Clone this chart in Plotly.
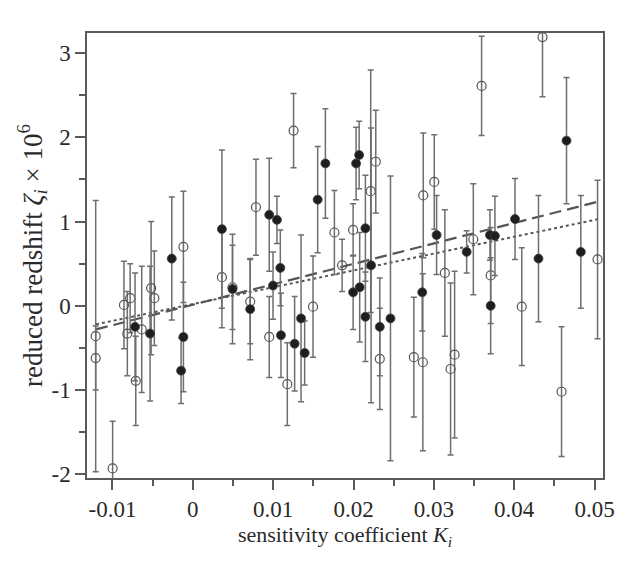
import plotly.graph_objects as go

# Open-circle measurements
open_x = [-0.01209, -0.01209, -0.00998, -0.00857, -0.00815, -0.00780, -0.00710, -0.00636,
          -0.00519, -0.00479, -0.00117, 0.00362, 0.00494, 0.00714, 0.00786, 0.00951,
          0.01254, 0.01176, 0.01496, 0.01762, 0.01858, 0.01995, 0.02214, 0.02277,
          0.02327, 0.02751, 0.02863, 0.02868, 0.03005, 0.03137, 0.03208, 0.03258,
          0.03491, 0.03594, 0.03707, 0.04094, 0.04352, 0.04589, 0.05037]
open_y = [-0.36, -0.62, -1.93, 0.01, -0.33, 0.09, -0.89, -0.28,
          0.21, 0.09, 0.70, 0.34, 0.22, 0.05, 1.17, -0.37,
          2.08, -0.93, -0.01, 0.87, 0.48, 0.90, 1.36, 1.71,
          -0.63, -0.61, -0.67, 1.31, 1.47, 0.39, -0.75, -0.58,
          0.79, 2.61, 0.36, -0.01, 3.19, -1.02, 0.55]
open_err = [1.61, 0.38, 0.56, 0.52, 0.50, 0.41, 0.53, 0.75,
            0.79, 0.56, 0.66, 0.60, 0.50, 0.50, 0.57, 0.48,
            0.44, 0.49, 0.60, 0.50, 0.31, 0.31, 1.44, 0.61,
            0.60, 0.71, 1.05, 0.74, 0.56, 0.75, 1.02, 0.99,
            0.66, 0.59, 0.57, 0.70, 0.71, 0.77, 0.94]

# Filled-circle measurements
filled_x = [-0.00719, -0.00532, -0.00262, -0.00146, -0.00117, 0.00362, 0.00494, 0.00714,
            0.00951, 0.01047, 0.01089, 0.00998, 0.01097, 0.01267, 0.01347, 0.01392,
            0.01554, 0.01650, 0.01995, 0.02032, 0.02070, 0.02077, 0.02148, 0.02148,
            0.02219, 0.02327, 0.02460, 0.02855, 0.03034, 0.03408, 0.03698, 0.03760,
            0.03707, 0.04010, 0.04302, 0.04651, 0.04829]
filled_y = [-0.25, -0.33, 0.56, -0.77, -0.37, 0.91, 0.20, -0.04,
            1.08, 1.02, 0.45, 0.24, -0.35, -0.45, -0.15, -0.56,
            1.26, 1.69, 0.16, 1.69, 1.79, 0.22, 0.92, -0.13,
            0.48, -0.25, -0.15, 0.16, 0.84, 0.64, 0.84, 0.83,
            0.00, 1.03, 0.56, 1.96, 0.64]
filled_err = [0.64, 0.80, 0.73, 0.39, 0.65, 0.94, 0.65, 0.60,
              0.67, 0.28, 0.45, 0.40, 0.50, 0.56, 0.99, 0.38,
              0.63, 0.65, 0.44, 0.43, 0.40, 0.65, 0.63, 0.53,
              1.63, 0.58, 1.69, 0.46, 0.47, 0.25, 0.30, 0.47,
              0.57, 0.48, 0.75, 0.75, 0.67]

# Fit lines (end points)
fit_x = [-0.01205, 0.0508]
dashed_y = [-0.28, 1.245]
dotted_y = [-0.22, 1.035]

x_tickvals = [-0.01, 0, 0.01, 0.02, 0.03, 0.04, 0.05]
x_ticktext = ["-0.01", "0", "0.01", "0.02", "0.03", "0.04", "0.05"]
y_tickvals = [-2, -1, 0, 1, 2, 3]
y_ticktext = ["-2", "-1", "0", "1", "2", "3"]

line_col = "#5a5a5a"
err_col = "#6e6e6e"
font_fam = "Liberation Serif"
txt_col = "#2a2a2a"

fig = go.Figure()
fig.add_trace(go.Scatter(x=fit_x, y=dotted_y, mode="lines",
                         line=dict(color="#555555", width=2, dash="dot"),
                         hoverinfo="skip"))
fig.add_trace(go.Scatter(x=fit_x, y=dashed_y, mode="lines",
                         line=dict(color="#555555", width=2.2, dash="12px,6px"),
                         hoverinfo="skip"))
fig.add_trace(go.Scatter(
    x=open_x, y=open_y, mode="markers",
    error_y=dict(type="data", array=open_err, visible=True,
                 color=err_col, thickness=1.5, width=3),
    marker=dict(symbol="circle-open", size=9, color="#555555",
                line=dict(width=1.2, color="#555555"))))
fig.add_trace(go.Scatter(
    x=filled_x, y=filled_y, mode="markers",
    error_y=dict(type="data", array=filled_err, visible=True,
                 color=err_col, thickness=1.5, width=3),
    marker=dict(symbol="circle", size=9, color="#1e1e1e",
                line=dict(width=0.8, color="#444444"))))

axis_common = dict(showline=True, mirror=True, linecolor=line_col, linewidth=1.5,
                   ticks="outside", ticklen=10, tickwidth=1.5, tickcolor=line_col,
                   showgrid=False, zeroline=False, automargin=False,
                   tickfont=dict(family=font_fam, size=23, color=txt_col))

fig.update_layout(
    width=619, height=565,
    margin=dict(l=87, r=16, t=33, b=87),
    paper_bgcolor="white", plot_bgcolor="white",
    showlegend=False,
    font=dict(family=font_fam, size=22, color=txt_col),
    xaxis=dict(range=[-0.01317, 0.05105], tickvals=x_tickvals, ticktext=x_ticktext,
               minor=dict(ticks="outside", ticklen=6, tickwidth=1.5, tickcolor=line_col,
                          tickvals=[-0.005, 0.005, 0.015, 0.025, 0.035, 0.045]),
               title=dict(text="sensitivity coefficient <i>K</i><sub><i>i</i></sub>",
                          standoff=2,
                          font=dict(family=font_fam, size=22, color=txt_col)),
               **axis_common),
    yaxis=dict(range=[-2.044, 3.238], tickvals=y_tickvals, ticktext=y_ticktext,
               minor=dict(ticks="outside", ticklen=6, tickwidth=1.5, tickcolor=line_col,
                          tickvals=[-1.5, -0.5, 0.5, 1.5, 2.5]),
               title=dict(text="reduced redshift <i>ζ</i><sub><i>i</i></sub> × 10<sup>6</sup>",
                          standoff=1,
                          font=dict(family=font_fam, size=27, color=txt_col)),
               **axis_common),
)

# remove the browser's default 8px body margin so the figure fills the window exactly
fig.write_html("out.html", config={"displayModeBar": False},
               post_script="document.body.style.margin='0';")
